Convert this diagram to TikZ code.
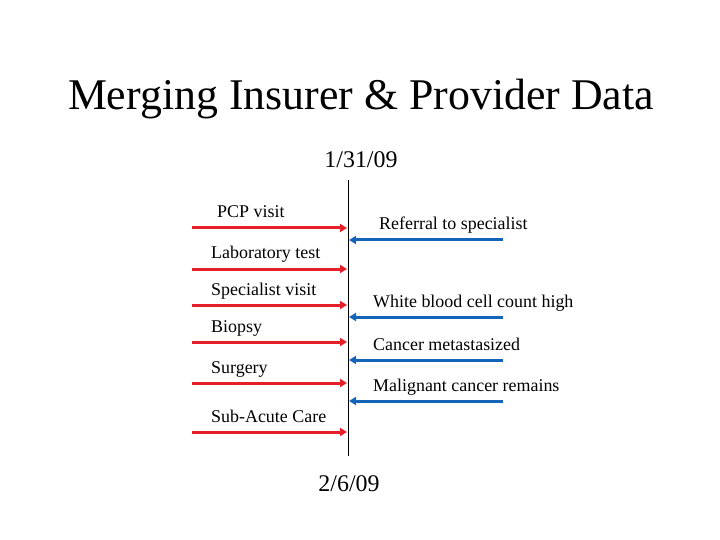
\documentclass[tikz,border=0pt]{standalone}
\usepackage{fontspec}
\setmainfont{Liberation Serif}
\usetikzlibrary{arrows.meta}
\definecolor{rd}{RGB}{230,30,40}
\definecolor{bl}{RGB}{20,100,185}
\begin{document}
\begin{tikzpicture}[x=1bp,y=-1bp,
  redarr/.style={rd,line width=3bp,-{Triangle[length=7bp,width=8bp]}},
  bluarr/.style={bl,line width=3bp,-{Triangle[length=7bp,width=8bp]}},
  lbl/.style={anchor=base west,inner sep=0pt,font=\fontsize{18}{20}\selectfont}]
\useasboundingbox (0,0) rectangle (720,540);
\node[anchor=base,inner sep=0pt,font=\fontsize{44}{48}\selectfont] (title) at (361,110) {Merging Insurer \& Provider Data};
\node[anchor=base,inner sep=0pt,font=\fontsize{24}{28}\selectfont] (d1) at (361,168) {1/31/09};
\node[anchor=base,inner sep=0pt,font=\fontsize{24}{28}\selectfont] (d2) at (349,491) {2/6/09};
\coordinate (vt) at (348,180); \coordinate (vb) at (348,456);
\draw[line width=0.8bp] (vt) -- (vb);
\foreach \n/\y/\t/\dx in {a/228/PCP visit/217, b/269/Laboratory test/211, c/305/Specialist visit/211, d/342/Biopsy/211, e/383/Surgery/211, f/432/Sub-Acute Care/211}{
  \coordinate (\n s) at (192,\y); \coordinate (\n e) at (347,\y);
  \draw[redarr] (\n s) -- (\n e);
  \node[lbl] (\n l) at (\dx,\y-10) {\t};
}
\foreach \n/\y/\t/\dx in {g/240/Referral to specialist/379, h/317/White blood cell count high/373, i/360/Cancer metastasized/373, j/401/Malignant cancer remains/373}{
  \coordinate (\n s) at (503,\y); \coordinate (\n e) at (349,\y);
  \draw[bluarr] (\n s) -- (\n e);
  \node[lbl] (\n l) at (\dx,\y-10) {\t};
}
\end{tikzpicture}
\end{document}
